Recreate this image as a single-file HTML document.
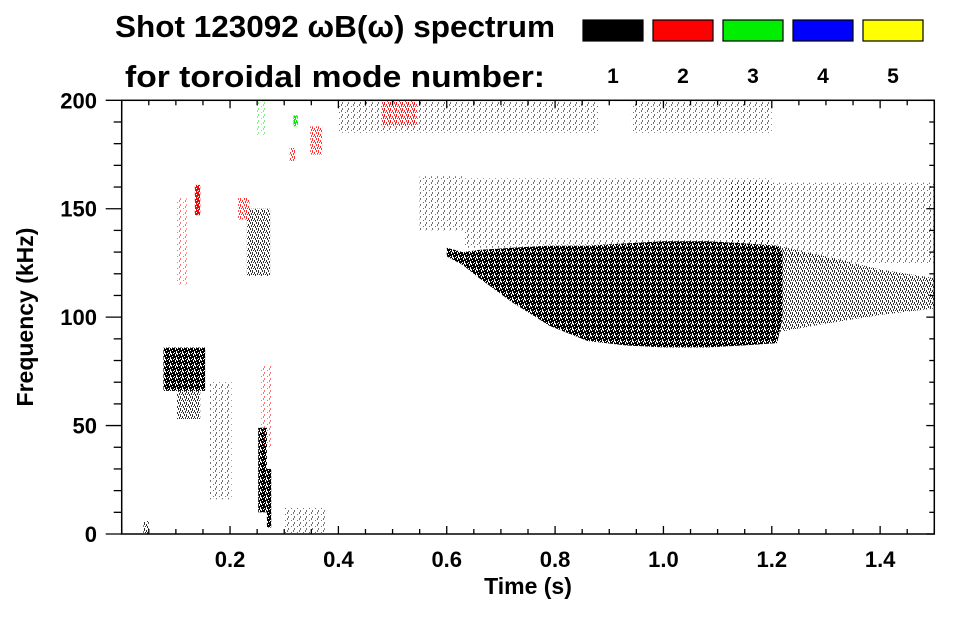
<!DOCTYPE html>
<html><head><meta charset="utf-8">
<style>
html,body{margin:0;padding:0;background:#fff;}
body{width:963px;height:615px;overflow:hidden;font-family:"Liberation Sans",sans-serif;}
svg text{font-family:"Liberation Sans",sans-serif;font-weight:bold;fill:#000;}
</style></head><body>
<svg id="chart" width="963" height="615" viewBox="0 0 963 615" xmlns="http://www.w3.org/2000/svg">
<defs id="defs"></defs>
<text x="115" y="37" font-size="31" textLength="440" lengthAdjust="spacingAndGlyphs">Shot 123092 ωB(ω) spectrum</text>
<text x="125" y="87" font-size="31" textLength="420" lengthAdjust="spacingAndGlyphs">for toroidal mode number:</text>
<g id="legend"></g>
<g id="marks"></g>
<g id="axes"></g>
<text x="528" y="594" font-size="23" text-anchor="middle">Time (s)</text>
<text transform="translate(33,317) rotate(-90)" font-size="23" text-anchor="middle">Frequency (kHz)</text>
</svg>
<script>
// ---- data ----
const modeNumbers = [1, 2, 3, 4, 5];
const modeColors = ["#000000", "#ff0000", "#00ee00", "#0000ff", "#ffff00"];
const xTicks = [0.2, 0.4, 0.6, 0.8, 1.0, 1.2, 1.4];
const yTicks = [0, 50, 100, 150, 200];
// main mode-1 band (columns)
const bandTime = [0.60, 0.63, 0.66, 0.72, 0.79, 0.86, 0.93, 1.00, 1.08, 1.15, 1.21, 1.22];
const bandLow  = [128, 124, 118, 107, 96, 89, 87, 86, 86, 87, 88, 100];
const bandHigh = [132, 130, 131, 132, 133, 133, 134, 135, 135, 134, 133, 130];
// tail band after 1.22 s
const tailTime = [1.21, 1.30, 1.40, 1.50];
const tailLow  = [93, 97, 101, 104];
const tailHigh = [133, 128, 122, 118];
// rectangular patches: time range, freq range, mode, density (0 sparse,1 medium,2 dense)
const patchT0   = [0.55, 0.63, 1.12, 0.40, 0.94, 0.48, 0.077, 0.102, 0.163, 0.231, 0.252, 0.268, 0.135, 0.10, 0.215, 0.255, 0.348, 0.31, 0.25, 0.317, 0.04, 0.30];
const patchT1   = [0.63, 1.20, 1.50, 0.88, 1.20, 0.545, 0.154, 0.145, 0.203, 0.274, 0.268, 0.276, 0.145, 0.12, 0.236, 0.277, 0.37, 0.32, 0.268, 0.325, 0.05, 0.375];
const patchF0   = [140, 132, 125, 185, 185, 188, 66, 53, 16, 119, 10, 3, 147, 115, 145, 40, 175, 172, 184, 188, 0, 0];
const patchF1   = [165, 164, 162, 200, 200, 200, 86, 66, 70, 150, 49, 30, 161, 155, 155, 78, 188, 178, 200, 193, 6, 12];
const patchMode = [1, 1, 1, 1, 1, 2, 1, 1, 1, 1, 1, 1, 2, 2, 2, 2, 2, 2, 3, 3, 1, 1];
const patchDens = [0, 0, 0, 0, 0, 1, 2, 1, 0, 1, 2, 2, 2, 0, 1, 0, 1, 1, 0, 2, 1, 0];

// ---- scales ----
const L = 121.7, R = 934.3, T = 100.3, B = 534;
const tMin = 0, tMax = 1.5, fMin = 0, fMax = 200;
const xs = t => L + (t - tMin) / (tMax - tMin) * (R - L);
const ys = f => B - (f - fMin) / (fMax - fMin) * (B - T);
const NS = "http://www.w3.org/2000/svg";
function mk(tag, attrs, parent) {
  const e = document.createElementNS(NS, tag);
  for (const k in attrs) e.setAttribute(k, attrs[k]);
  parent.appendChild(e);
  return e;
}
// patterns (texture styling)
const defs = document.getElementById('defs');
const tiles = [
  [[0,0,1,2],[3,4,1,1],[5,2,1,2]],
  [[0,0,1,3],[2,2,1,2],[4,0,1,2],[3,4,1,2],[5,3,1,2],[1,4,1,1]],
  [[0,0,1,4],[1,2,1,4],[2,0,1,3],[3,1,1,4],[4,0,1,2],[4,3,1,3],[5,0,1,5],[0,5,1,1]]
];
const tileOpacity = [0.55, 0.8, 1];
modeColors.forEach((c, m) => {
  tiles.forEach((tile, d) => {
    const p = mk('pattern', {id: 'p' + m + '_' + d, width: 6, height: 6, patternUnits: 'userSpaceOnUse'}, defs);
    tile.forEach(r => mk('rect', {x: r[0], y: r[1], width: r[2], height: r[3], fill: c, 'fill-opacity': tileOpacity[d]}, p));
  });
});
const marks = document.getElementById('marks');
function bandPoly(ts, lo, hi, dens, name) {
  let pts = [];
  ts.forEach((t, i) => pts.push(xs(t) + ',' + ys(hi[i])));
  for (let i = ts.length - 1; i >= 0; i--) pts.push(xs(ts[i]) + ',' + ys(lo[i]));
  const p = mk('polygon', {points: pts.join(' '), fill: 'url(#p0_' + dens + ')'}, marks);
  
  
}
bandPoly(bandTime, bandLow, bandHigh, 2, 'mode1-main-band');
bandPoly(tailTime, tailLow, tailHigh, 1, 'mode1-tail-band');
for (let i = 0; i < patchT0.length; i++) {
  const x0 = xs(patchT0[i]), x1 = xs(patchT1[i]);
  const y0 = ys(patchF1[i]), y1 = ys(patchF0[i]);
  const r = mk('rect', {x: x0, y: y0, width: Math.max(1, x1 - x0), height: Math.max(1, y1 - y0),
    fill: 'url(#p' + (patchMode[i] - 1) + '_' + patchDens[i] + ')'}, marks);
  
  
}
// ---- axes ----
const axes = document.getElementById('axes');
const frame = mk('rect', {x: L, y: T, width: R - L, height: B - T, fill: 'none', stroke: '#000', 'stroke-width': 1.5}, axes);


for (let t = 0; t <= 1.5001; t += 0.05) {
  const major = Math.abs(t / 0.2 - Math.round(t / 0.2)) < 1e-6;
  const len = major ? 8 : 5, x = xs(t);
  mk('line', {x1: x, x2: x, y1: B, y2: B - len, stroke: '#000', 'stroke-width': 1.3}, axes);
  mk('line', {x1: x, x2: x, y1: T, y2: T + len, stroke: '#000', 'stroke-width': 1.3}, axes);
}
for (let f = 0; f <= 200; f += 10) {
  const major = f % 50 === 0, y = ys(f);
  mk('line', {x1: L, x2: L - (major ? 16 : 8), y1: y, y2: y, stroke: '#000', 'stroke-width': 1.3}, axes);
  mk('line', {x1: R, x2: R - (major ? 8 : 5), y1: y, y2: y, stroke: '#000', 'stroke-width': 1.3}, axes);
}
xTicks.forEach(t => {
  const tx = mk('text', {x: xs(t), y: 567, 'font-size': 22, 'text-anchor': 'middle'}, axes);
  tx.textContent = t.toFixed(1);
  
  
});
yTicks.forEach(f => {
  const tx = mk('text', {x: 97, y: ys(f) + 8, 'font-size': 22, 'text-anchor': 'end'}, axes);
  tx.textContent = String(f);
  
  
});
// ---- legend ----
const legend = document.getElementById('legend');
modeNumbers.forEach((n, i) => {
  const x = 583 + i * 70;
  const r = mk('rect', {x: x, y: 20, width: 60, height: 21, fill: modeColors[i], stroke: '#000', 'stroke-width': 1.2}, legend);
  
  
  const tx = mk('text', {x: x + 30, y: 83, 'font-size': 21, 'text-anchor': 'middle'}, legend);
  tx.textContent = String(n);
  
  
});
</script>
</body></html>
